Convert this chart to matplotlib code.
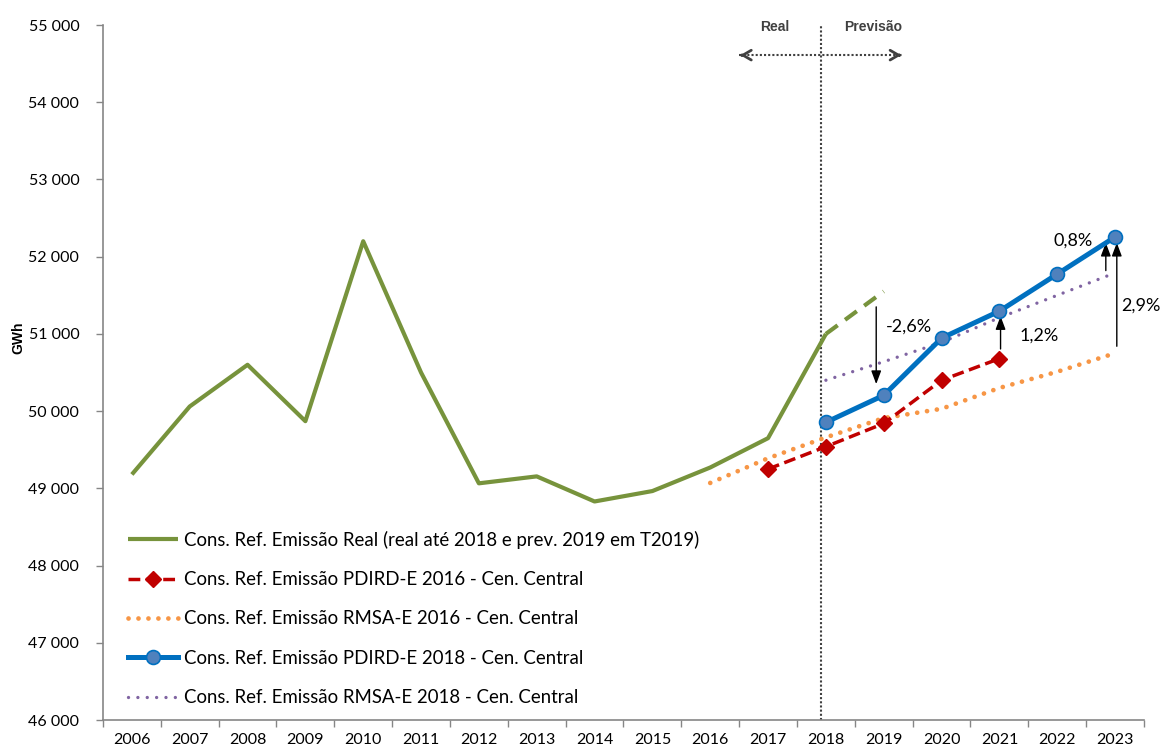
import matplotlib
matplotlib.use("Agg")
import matplotlib.pyplot as plt
import numpy as np

plt.rcParams['font.family'] = ['Lato', 'DejaVu Sans']

anos = [str(a) for a in range(2006, 2024)]

# Consumo referido à emissão (GWh)
real = [49180, 50060, 50600, 49870, 52200, 50500, 49065, 49155, 48830,
        48965, 49270, 49650, 51000]
prev_2019 = [51000, 51550]
pdird_2016 = [49250, 49540, 49840, 50400, 50680]
rmsa_2016 = [49070, 49390, 49660, 49910, 50030, 50300, 50510, 50750]
pdird_2018 = [49855, 50205, 50945, 51295, 51775, 52255]
rmsa_2018 = [50400, 50640, 50890, 51210, 51500, 51790]

lbl_real = 'Cons. Ref. Emissão Real (real até 2018 e prev. 2019 em T2019)'
lbl_pdird16 = 'Cons. Ref. Emissão PDIRD-E 2016 - Cen. Central'
lbl_rmsa16 = 'Cons. Ref. Emissão RMSA-E 2016 - Cen. Central'
lbl_pdird18 = 'Cons. Ref. Emissão PDIRD-E 2018 - Cen. Central'
lbl_rmsa18 = 'Cons. Ref. Emissão RMSA-E 2018 - Cen. Central'

verde = '#77933C'
vermelho = '#C00000'
laranja = '#F79646'
azul = '#0070C0'
roxo = '#8064A2'
cinza = '#404040'

x = np.arange(len(anos))
i2016 = anos.index('2016')
i2017 = anos.index('2017')
i2018 = anos.index('2018')

fig = plt.figure(figsize=(11.62, 7.49), dpi=100)
ax = fig.add_axes([0.0886, 0.0387, 0.8959, 0.9279])

ax.plot(x[:len(real)], real, color=verde, lw=3, label=lbl_real,
        solid_capstyle='butt', zorder=3)
ax.plot(x[i2018:i2018 + 2], prev_2019, color=verde, lw=3,
        ls=(0, (3.5, 2.2)), zorder=3)
ax.plot(x[i2017:i2017 + len(pdird_2016)], pdird_2016, color=vermelho, lw=2.5,
        ls=(0, (3.4, 1.6)), marker='D', ms=8.5, mec=vermelho, label=lbl_pdird16,
        zorder=4)
ax.plot(x[i2016:i2016 + len(rmsa_2016)], rmsa_2016, color=laranja, lw=3.4,
        ls=(0, (0.01, 2.1)), dash_capstyle='round', label=lbl_rmsa16, zorder=2)
ax.plot(x[i2018:i2018 + len(pdird_2018)], pdird_2018, color=azul, lw=3.6,
        marker='o', ms=10, mfc='#4F81BD', mec=azul, mew=1.2, label=lbl_pdird18,
        zorder=5)
ax.plot(x[i2018:i2018 + len(rmsa_2018)], rmsa_2018, color=roxo, lw=2.4,
        ls=(0, (0.01, 2.8)), dash_capstyle='round', label=lbl_rmsa18, zorder=2)

# separação real / previsão
xsep = 11.92
ax.axvline(xsep, color=cinza, lw=1.5, ls=(0, (1, 1)), zorder=1)
ya = 54610
ax.plot([10.5, 13.32], [ya, ya], color=cinza, lw=1.5, ls=(0, (1, 1)))
for xa, xb in [(10.6, 10.47), (13.22, 13.35)]:
    ax.annotate('', xy=(xb, ya), xytext=(xa, ya),
                arrowprops=dict(arrowstyle='->,head_length=0.6,head_width=0.35',
                                color=cinza, lw=2))
ax.text(11.11, 54970, 'Real', ha='center', va='center', fontsize=10,
        fontweight='bold', color=cinza, family=['Liberation Sans'], clip_on=False)
ax.text(12.82, 54970, 'Previsão', ha='center', va='center', fontsize=10,
        fontweight='bold', color=cinza, family=['Liberation Sans'], clip_on=False)

# variações
seta = dict(arrowstyle='-|>,head_length=0.8,head_width=0.3', color='black',
            lw=1, shrinkA=0, shrinkB=0)
ax.annotate('', xy=(12.87, 50350), xytext=(12.87, 51350), arrowprops=seta)
ax.annotate('', xy=(15.02, 51230), xytext=(15.02, 50805), arrowprops=seta)
ax.annotate('', xy=(16.84, 52180), xytext=(16.84, 51820), arrowprops=seta)
ax.annotate('', xy=(17.03, 52180), xytext=(17.03, 50840), arrowprops=seta)
ax.text(13.43, 51100, '-2,6%', ha='center', va='center', fontsize=13)
ax.text(15.68, 50975, '1,2%', ha='center', va='center', fontsize=13)
ax.text(16.28, 52205, '0,8%', ha='center', va='center', fontsize=13)
ax.text(17.44, 51360, '2,9%', ha='center', va='center', fontsize=13,
        clip_on=False)

ax.set_xlim(-0.5, len(anos) - 0.5)
ax.set_ylim(46000, 55000)
ax.set_xticks(x)
ax.set_xticklabels(anos, fontsize=11.5)
ax.set_xticks(np.arange(-0.5, len(anos)), minor=True)
ax.tick_params(axis='x', which='major', length=0, pad=9)
ax.tick_params(axis='x', which='minor', length=5, color='#868686', width=1)
yt = np.arange(46000, 55001, 1000)
ax.set_yticks(yt)
ax.set_yticklabels([f'{v:,}'.replace(',', ' ') for v in yt], fontsize=11.5)
ax.tick_params(axis='y', length=5, color='#868686', width=1, pad=12)
for s in ['top', 'right']:
    ax.spines[s].set_visible(False)
for s in ['left', 'bottom']:
    ax.spines[s].set_color('#868686')
    ax.spines[s].set_linewidth(1.2)

ax.set_ylabel('GWh', fontsize=10, fontweight='bold', family=['Liberation Sans'])
ax.yaxis.set_label_coords(-0.075, 0.55)

ax.legend(loc='lower left', bbox_to_anchor=(0.024, 0.02), frameon=False,
          fontsize=13.4, handlelength=2.7, handletextpad=0.3,
          labelspacing=1.2, borderpad=0, borderaxespad=0)

fig.savefig('out.png', dpi=100)
